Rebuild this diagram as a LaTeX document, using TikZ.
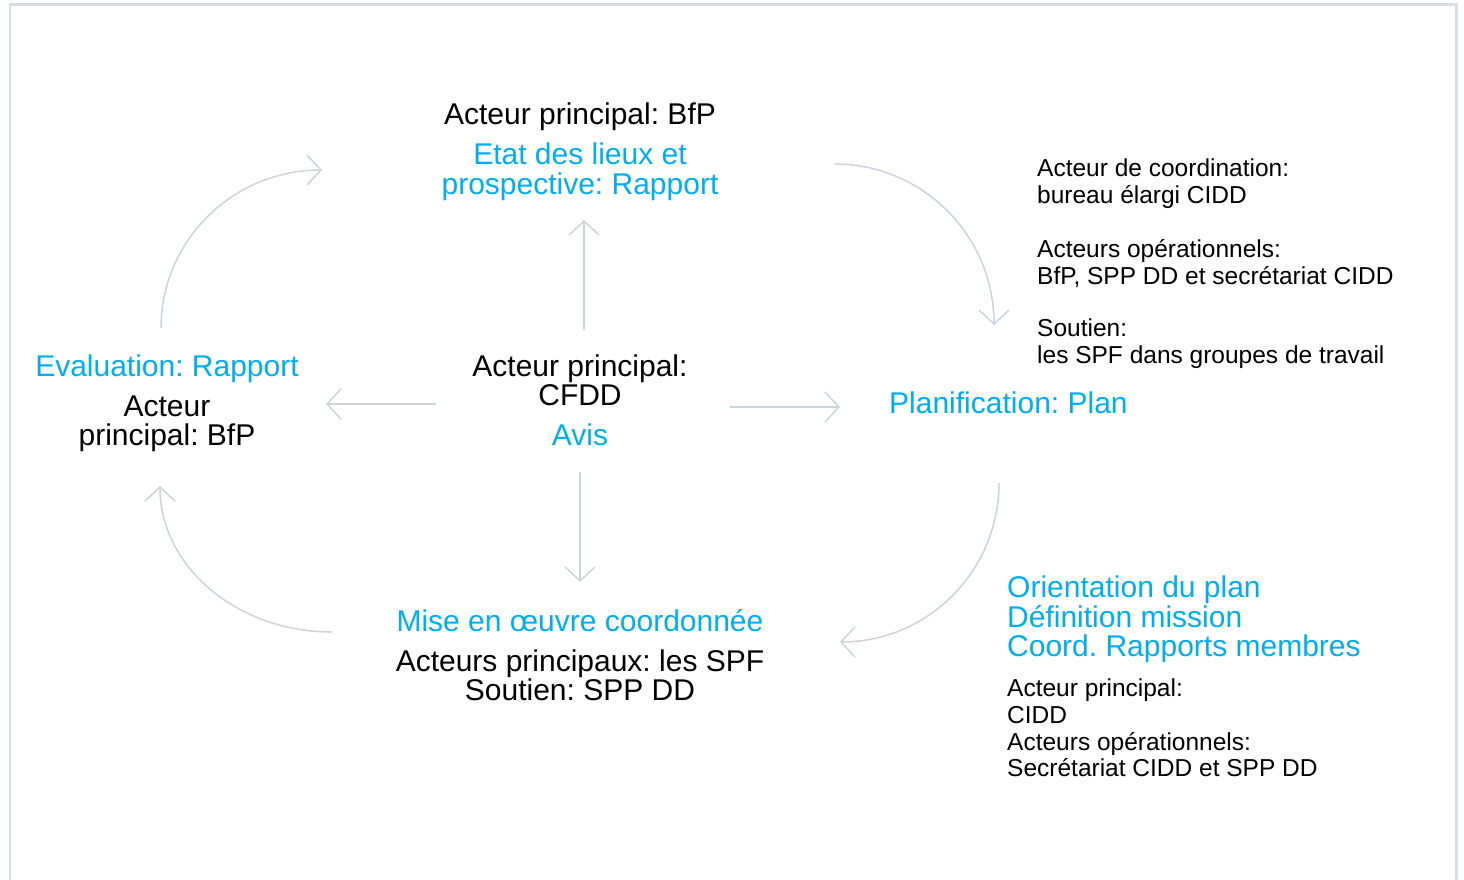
\documentclass[tikz,border=0pt]{standalone}
\usepackage{fontspec}
\setmainfont{Liberation Sans}
\usetikzlibrary{arrows.meta}
\frenchspacing
\definecolor{blueT}{HTML}{00AEEF}
\definecolor{lineC}{HTML}{CDD3DA}
\definecolor{frameC}{HTML}{D8DDE2}
\tikzset{
  big/.style={inner sep=0pt, font=\frenchspacing\fontsize{30}{29.5}\selectfont, align=center},
  bigL/.style={inner sep=0pt, font=\frenchspacing\fontsize{30}{29.3}\selectfont, align=left, anchor=west},
  small/.style={inner sep=0pt, font=\frenchspacing\fontsize{24.5}{26.8}\selectfont, align=left, anchor=west},
  blue/.style={text=blueT},
  conn/.style={draw=lineC, line width=1.5pt, -{Straight Barb[length=14pt,width=30pt,line width=1.5pt]}},
}
\begin{document}
\begin{tikzpicture}[x=1pt,y=-1pt]
\useasboundingbox (0,0) rectangle (1464,880);
\draw[frameC, line width=2.5pt] (10,880) -- (10,4.5) -- (1456.5,4.5) -- (1456.5,880);

% top
\node[big] (topActor) at (580,117) {Acteur principal: BfP};
\node[big, blue] (topTitle) at (580,171.5) {Etat des lieux et\\prospective: Rapport};

% centre
\node[big] (cActor) at (580,380.5) {Acteur principal:\\CFDD};
\node[big, blue] (cAvis) at (580,435) {Avis};

% left
\node[big, blue] (lTitle) at (167,369) {Evaluation: Rapport};
\node[big] (lActor) at (167,424) {Acteur\\principal: BfP};

% right
\node[bigL, blue] (rTitle) at (889,403) {Planification: Plan};
\node[small] (rA) at (1037,183.5) {Acteur de coordination:\\bureau élargi CIDD};
\node[small] (rB) at (1037,263.5) {Acteurs opérationnels:\\BfP, SPP DD et secrétariat CIDD};
\node[small] (rC) at (1037,343.5) {Soutien:\\les SPF dans groupes de travail};

% bottom
\node[big, blue] (bTitle) at (580,621) {Mise en œuvre coordonnée};
\node[big] (bActor) at (580,675.5) {Acteurs principaux: les SPF\\Soutien: SPP DD};

% bottom right
\node[bigL, blue] (brTitle) at (1007,619.5) {Orientation du plan\\Définition mission\\Coord. Rapports membres};
\node[small] (brActor) at (1007,728) {Acteur principal:\\CIDD\\Acteurs opérationnels:\\Secrétariat CIDD et SPP DD};

% connector end points
\coordinate (upS) at (584,330);   \coordinate (upE) at (584,220);
\coordinate (lfS) at (436,404);   \coordinate (lfE) at (326,404);
\coordinate (rtS) at (730,407);   \coordinate (rtE) at (840,407);
\coordinate (dnS) at (580,472);   \coordinate (dnE) at (580,582);
\coordinate (a1S) at (161,328);   \coordinate (a1E) at (322,170);
\coordinate (a2S) at (835,164);   \coordinate (a2E) at (994,325);
\coordinate (a3S) at (999,483);   \coordinate (a3E) at (840,642);
\coordinate (a4S) at (332,632);   \coordinate (a4E) at (160,486);

\draw[conn] (upS) -- (upE);
\draw[conn] (lfS) -- (lfE);
\draw[conn] (rtS) -- (rtE);
\draw[conn] (dnS) -- (dnE);

\draw[conn] (a1S) .. controls (161,240.7) and (233.1,170) .. (a1E);
\draw[conn] (a2S) .. controls (922.8,164) and (994,236.1) .. (a2E);
\draw[conn] (a3S) .. controls (999,570.8) and (927.8,642) .. (a3E);
\draw[conn] (a4S) .. controls (237,632) and (160,566.6) .. (a4E);
\end{tikzpicture}
\end{document}
